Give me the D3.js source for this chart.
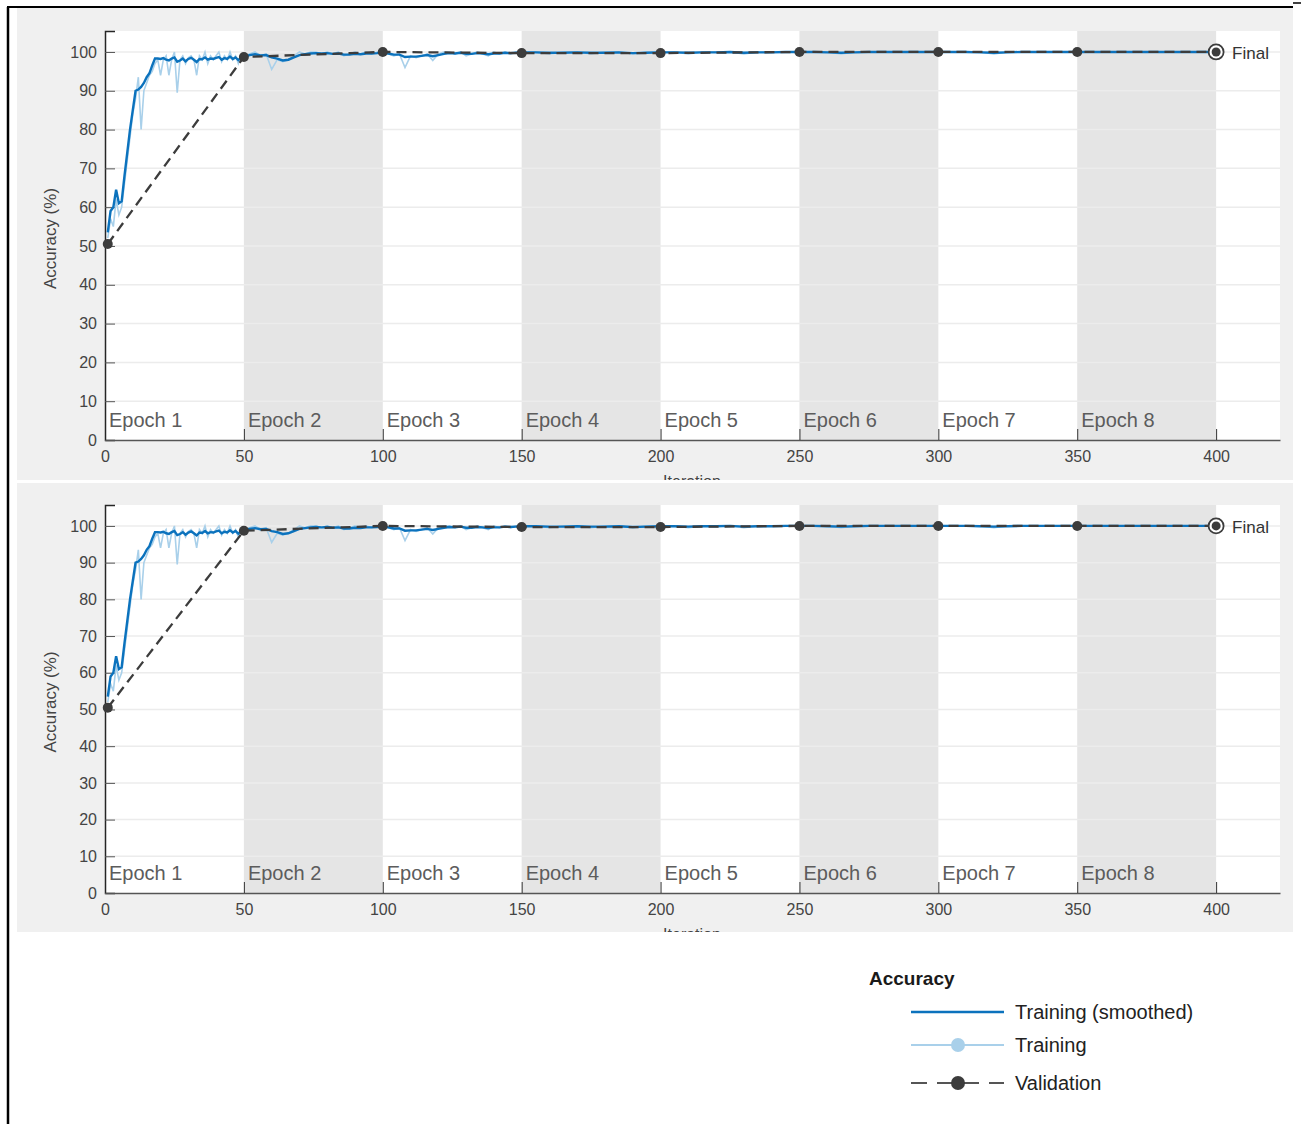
<!DOCTYPE html>
<html>
<head>
<meta charset="utf-8">
<script src="https://cdn.jsdelivr.net/npm/d3@7"></script>
<style>
  html, body { margin: 0; padding: 0; background: #fff; }
  svg { display: block; font-family: "Liberation Sans", Arial, sans-serif; }
</style>
</head>
<body>
<div id="chart"></div>
<script>
// iteration grid of the sampled training values
const iterSeg1 = d3.range(1, 51);
const iterSeg2 = d3.range(52, 151, 2);
const iterSeg3 = d3.range(155, 401, 5);

const trainingRaw = [
  52, 57, 55, 62, 58, 60, 66, 72, 78, 84, 88, 93.5, 80, 90, 92, 94, 95, 97, 98, 94,
  98, 99, 94, 98, 100, 89.5, 98, 99, 97, 98.5, 99, 98, 94, 99, 98, 100, 97, 99, 98, 99,
  100, 97.5, 99, 98, 100, 98, 99, 97, 99, 98.5,
  99.5, 100, 99, 99.5, 95.5, 98, 97.5, 98, 99, 100, 99.5, 100, 100, 99.5, 100, 99.5, 100, 99, 99.5, 100,
  99.5, 100, 99.5, 100, 100, 99.5, 99, 99.5, 96, 99, 98.5, 99, 99.5, 97.8, 99.5, 100, 100, 99.5, 100, 99,
  99.5, 100, 99.5, 99, 100, 99.5, 100, 99.5, 100, 100,
  100, 99.5, 100, 100, 99.5, 100, 100, 99.5, 100, 100, 100, 99.5, 100, 100, 100, 99.5, 100, 100, 100, 100,
  100, 100, 99.5, 100, 100, 100, 100, 100, 100, 100, 100, 100, 100, 99.5, 100, 100, 100, 100, 100, 100,
  100, 100, 100, 100, 100, 100, 100, 100, 100, 100
];

const trainingSmoothed = [
  53.5, 59, 60, 64.5, 61, 61.5, 68, 74, 80, 85, 90, 90.3, 91, 92, 93.5, 94.5, 96.5, 98.3, 98.3, 98.2,
  98.4, 98, 97.8, 98.3, 98.6, 97.5, 97.8, 98.3, 97.6, 98.2, 98.5, 98, 97.4, 98.2, 98.1, 98.6, 98, 98.3, 98.2, 98.5,
  98.7, 98, 98.4, 98.2, 98.8, 98.2, 98.6, 97.9, 98.6, 98.7,
  99.2, 99.4, 99.1, 99.2, 98.6, 98.3, 97.8, 98, 98.6, 99.2, 99.4, 99.6, 99.7, 99.6, 99.7, 99.5, 99.6, 99.3, 99.3, 99.5,
  99.4, 99.6, 99.6, 99.7, 99.9, 99.6, 99.3, 99.3, 98.7, 98.8, 98.8, 99, 99.2, 98.9, 99.2, 99.5, 99.7, 99.6, 99.8, 99.5,
  99.5, 99.7, 99.6, 99.4, 99.6, 99.6, 99.8, 99.7, 99.8, 99.9,
  99.9, 99.8, 99.8, 99.9, 99.8, 99.8, 99.9, 99.7, 99.8, 99.9, 99.9, 99.8, 99.9, 99.9, 100, 99.8, 99.9, 99.9, 100, 100,
  100, 99.9, 99.8, 99.9, 100, 100, 100, 100, 100, 100, 100, 100, 99.9, 99.8, 99.9, 100, 100, 100, 100, 100,
  100, 100, 100, 100, 100, 100, 100, 100, 100, 100
];

const validationIter = [1, 50, 100, 150, 200, 250, 300, 350, 400];
const validationAcc = [50.5, 98.7, 100, 99.7, 99.7, 100, 100, 100, 100];

const epochLabels = ["Epoch 1", "Epoch 2", "Epoch 3", "Epoch 4", "Epoch 5", "Epoch 6", "Epoch 7", "Epoch 8"];
const epochStarts = [0, 50, 100, 150, 200, 250, 300, 350];
const xTicks = [0, 50, 100, 150, 200, 250, 300, 350, 400];
const yTicks = [0, 10, 20, 30, 40, 50, 60, 70, 80, 90, 100];

const legendLabels = ["Training (smoothed)", "Training", "Validation"];

const W = 1301, H = 1124;
const cSmooth = "#0b72bd", cRaw = "#a9d0ea", cVal = "#3c3c3c";

const iterations = [...iterSeg1, ...iterSeg2, ...iterSeg3];
const training = iterations.map((it, i) => ({ it, raw: trainingRaw[i], sm: trainingSmoothed[i] }));
const validation = validationIter.map((it, i) => ({ it, v: validationAcc[i] }));

const svg = d3.select("#chart").append("svg")
  .attr("width", W)
  .attr("height", H);

const x = d3.scaleLinear().domain([0, 423]).range([105, 1280]);

// frame lines
svg.append("line").attr("x1", 8).attr("x2", 8).attr("y1", 7).attr("y2", H)
  .attr("stroke", "#000").attr("stroke-width", 2.5);
svg.append("line").attr("x1", 7).attr("x2", 1293).attr("y1", 7).attr("y2", 7)
  .attr("stroke", "#000").attr("stroke-width", 2);
svg.append("line").attr("x1", 1293).attr("x2", W).attr("y1", 3).attr("y2", 3)
  .attr("stroke", "#000").attr("stroke-width", 1.5);

function drawPanel(idx, top, bottom, plotTop, plotBottom, yMax) {
  const clipId = "clip" + idx;
  svg.append("clipPath").attr("id", clipId)
    .append("rect").attr("x", 17).attr("y", top).attr("width", 1276).attr("height", bottom - top);

  const g = svg.append("g").attr("clip-path", `url(#${clipId})`);

  g.append("rect")
    .attr("x", 17).attr("y", top)
    .attr("width", 1276).attr("height", bottom - top)
    .attr("fill", "#f0f0f0");

  const y = d3.scaleLinear().domain([0, yMax]).range([plotBottom, plotTop]);

  // plot area
  g.append("rect")
    .attr("x", x(0)).attr("y", plotTop)
    .attr("width", x(423) - x(0)).attr("height", plotBottom - plotTop)
    .attr("fill", "#fff");

  // epoch bands (even epochs shaded)
  g.selectAll(".band")
    .data(epochStarts.filter((d, i) => i % 2 === 1))
    .enter().append("rect")
    .attr("x", d => x(d))
    .attr("y", plotTop)
    .attr("width", d => x(d + 50) - x(d))
    .attr("height", plotBottom - plotTop)
    .attr("fill", "#e5e5e5");

  // grid
  g.selectAll(".grid")
    .data(yTicks.slice(1))
    .enter().append("line")
    .attr("x1", x(0)).attr("x2", x(423))
    .attr("y1", d => y(d)).attr("y2", d => y(d))
    .attr("stroke", "#ececec")
    .attr("stroke-width", 1.5);

  // epoch labels
  g.selectAll(".epoch")
    .data(epochLabels)
    .enter().append("text")
    .attr("x", (d, i) => x(epochStarts[i]) + 4)
    .attr("y", plotBottom - 13)
    .attr("font-size", 20)
    .attr("fill", "#5c5c5c")
    .text(d => d);

  // axes
  const yAxis = d3.axisLeft(y).tickValues(yTicks).tickSize(-10).tickPadding(8);
  const ya = g.append("g").attr("transform", `translate(${x(0)},0)`).call(yAxis);
  ya.select(".domain").attr("stroke", "#262626").attr("stroke-width", 1.5);
  ya.selectAll(".tick line").attr("stroke", "#555");
  ya.selectAll(".tick text").attr("font-size", 16).attr("fill", "#444")
    .attr("font-family", "Liberation Sans, Arial, sans-serif");

  const xAxis = d3.axisBottom(x).tickValues(xTicks).tickSize(-11).tickPadding(11).tickSizeOuter(0);
  const xa = g.append("g").attr("transform", `translate(0,${plotBottom})`).call(xAxis);
  xa.select(".domain").attr("stroke", "#555").attr("stroke-width", 1.5);
  xa.selectAll(".tick line").attr("stroke", "#333");
  xa.selectAll(".tick text").attr("font-size", 16).attr("fill", "#444")
    .attr("font-family", "Liberation Sans, Arial, sans-serif");
  xa.selectAll(".tick").filter(d => d === 0).select("line").remove();

  // axis titles
  g.append("text")
    .attr("transform", `translate(56,${(plotTop + plotBottom) / 2 + 3}) rotate(-90)`)
    .attr("text-anchor", "middle")
    .attr("font-size", 17)
    .attr("fill", "#444")
    .text("Accuracy (%)");

  g.append("text")
    .attr("x", 692)
    .attr("y", plotBottom + 47)
    .attr("text-anchor", "middle")
    .attr("font-size", 16)
    .attr("fill", "#444")
    .text("Iteration");

  // training lines
  g.append("path")
    .datum(training)
    .attr("fill", "none")
    .attr("stroke", cRaw)
    .attr("stroke-width", 1.6)
    .attr("d", d3.line().x(d => x(d.it)).y(d => y(d.raw)));

  g.append("path")
    .datum(training)
    .attr("fill", "none")
    .attr("stroke", cSmooth)
    .attr("stroke-width", 2.4)
    .attr("d", d3.line().x(d => x(d.it)).y(d => y(d.sm)));

  // validation
  g.append("path")
    .datum(validation)
    .attr("fill", "none")
    .attr("stroke", cVal)
    .attr("stroke-width", 2.3)
    .attr("stroke-dasharray", "10,6")
    .attr("d", d3.line().x(d => x(d.it)).y(d => y(d.v)));

  g.selectAll(".vdot")
    .data(validation.slice(0, -1))
    .enter().append("circle")
    .attr("cx", d => x(d.it))
    .attr("cy", d => y(d.v))
    .attr("r", 5)
    .attr("fill", cVal);

  const fin = validation[validation.length - 1];
  g.append("circle")
    .attr("cx", x(fin.it)).attr("cy", y(fin.v)).attr("r", 7.5)
    .attr("fill", "#fff").attr("stroke", cVal).attr("stroke-width", 1.8);
  g.append("circle")
    .attr("cx", x(fin.it)).attr("cy", y(fin.v)).attr("r", 4.5)
    .attr("fill", cVal);
  g.append("text")
    .attr("x", x(fin.it) + 16)
    .attr("y", y(fin.v) + 7)
    .attr("font-size", 17)
    .attr("fill", "#333")
    .text("Final");
}

drawPanel(1, 8, 480, 31, 440, 105.4);
drawPanel(2, 483, 932, 505, 893, 105.7);

// legend
const lg = svg.append("g");
lg.append("text")
  .attr("x", 869).attr("y", 985)
  .attr("font-size", 19)
  .attr("font-weight", "bold")
  .attr("fill", "#1a1a1a")
  .text("Accuracy");

const legendY = [1012, 1045, 1083];
const lx0 = 911, lx1 = 1004, lxm = 958;

lg.append("line").attr("x1", lx0).attr("x2", lx1).attr("y1", legendY[0]).attr("y2", legendY[0])
  .attr("stroke", cSmooth).attr("stroke-width", 2.6);

lg.append("line").attr("x1", lx0).attr("x2", lx1).attr("y1", legendY[1]).attr("y2", legendY[1])
  .attr("stroke", cRaw).attr("stroke-width", 2.2);
lg.append("circle").attr("cx", lxm).attr("cy", legendY[1]).attr("r", 7).attr("fill", cRaw);

lg.append("line").attr("x1", lx0).attr("x2", lx1).attr("y1", legendY[2]).attr("y2", legendY[2])
  .attr("stroke", "#555").attr("stroke-width", 2.2).attr("stroke-dasharray", "16,10");
lg.append("circle").attr("cx", lxm).attr("cy", legendY[2]).attr("r", 7).attr("fill", cVal);

lg.selectAll(".ltext")
  .data(legendLabels)
  .enter().append("text")
  .attr("x", 1015)
  .attr("y", (d, i) => legendY[i] + 7)
  .attr("font-size", 20)
  .attr("fill", "#222")
  .text(d => d);
</script>
</body>
</html>
